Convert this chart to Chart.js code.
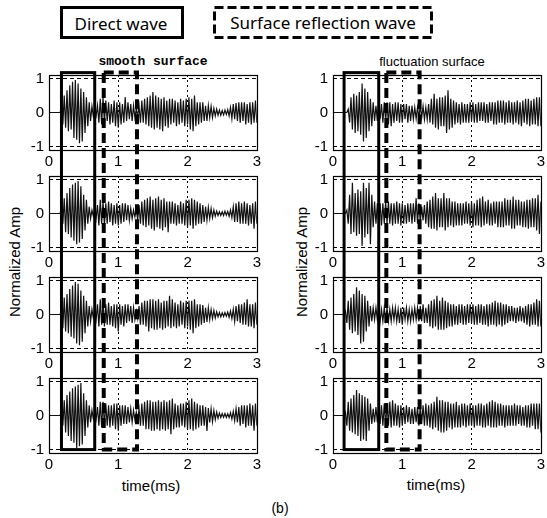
<!DOCTYPE html>
<html>
<head>
<meta charset="utf-8">
<script src="https://cdn.jsdelivr.net/npm/chart.js@4.4.1/dist/chart.umd.min.js"></script>
<style>
  body { margin: 0; width: 547px; height: 518px; background: #fff; position: relative; overflow: hidden; font-family: "Liberation Sans", Arial, sans-serif; }
  canvas.plot { position: absolute; }
  #overlay { position: absolute; left: 0; top: 0; pointer-events: none; }
  .txt { position: absolute; transform: translate(-50%, -50%); white-space: nowrap; color: #000; }
</style>
</head>
<body>
<div class="txt" style="left:121px;top:23px;font:17px 'Noto Sans', sans-serif;">Direct wave</div>
<div class="txt" style="left:323px;top:22px;font:17px 'Noto Sans', sans-serif;">Surface reflection wave</div>
<div class="txt" style="left:153px;top:61px;font:bold 13px 'Liberation Mono', 'Courier New', monospace;">smooth surface</div>
<div class="txt" style="left:432px;top:61px;font:13px 'Liberation Sans', Arial, sans-serif;">fluctuation surface</div>
<div class="txt" style="left:14px;top:262px;font:15px 'Liberation Sans', Arial, sans-serif;transform:translate(-50%,-50%) rotate(-90deg);">Normalized Amp</div>
<div class="txt" style="left:301px;top:262px;font:15px 'Liberation Sans', Arial, sans-serif;transform:translate(-50%,-50%) rotate(-90deg);">Normalized Amp</div>
<div class="txt" style="left:151px;top:485px;font:15px 'Liberation Sans', Arial, sans-serif;">time(ms)</div>
<div class="txt" style="left:436px;top:484px;font:15px 'Liberation Sans', Arial, sans-serif;">time(ms)</div>
<div class="txt" style="left:280px;top:508px;font:14px 'Liberation Sans', Arial, sans-serif;">(b)</div>

<canvas id="L1" class="plot"></canvas>
<canvas id="L2" class="plot"></canvas>
<canvas id="L3" class="plot"></canvas>
<canvas id="L4" class="plot"></canvas>
<canvas id="R1" class="plot"></canvas>
<canvas id="R2" class="plot"></canvas>
<canvas id="R3" class="plot"></canvas>
<canvas id="R4" class="plot"></canvas>
<canvas id="overlay" width="547" height="518"></canvas>

<script>
// sample spacing of the traces (ms), first sample at t = 0
const DT = 0.02;
const xTicks = [0, 1, 2, 3];
const yTicks = [-1, 0, 1];

// smooth surface, receivers 1..4 (normalized amplitude)
const smooth1 = [
  0,0,0,0,0,0,0,0,0,.12,
  -.35,.5,-.45,.65,-.55,.8,-.5,.9,-.75,.95,
  -.8,.85,-.9,.7,-.85,.6,-.6,.45,-.4,.3,
  -.25,.18,-.12,.08,-.1,.2,-.3,.4,-.35,.45,
  -.3,.35,-.25,.3,-.35,.25,-.3,.35,-.4,.3,
  -.45,.3,-.35,.25,-.3,.45,-.25,.3,-.2,.25,
  -.25,.2,-.15,.1,-.12,.2,-.3,.35,-.3,.4,
  -.35,.45,-.4,.5,-.45,.6,-.5,.5,-.45,.45,
  -.5,.4,-.55,.45,-.4,.35,-.45,.4,-.35,.4,
  -.3,.35,-.4,.3,-.35,.4,-.3,.35,-.4,.4,
  -.35,.45,-.5,.4,-.55,.5,-.4,.3,-.35,.3,
  -.3,.3,-.25,.2,-.25,.2,-.15,.18,-.15,.12,
  -.1,.1,-.08,.07,-.08,.06,-.07,.07,-.06,.08,
  -.1,.15,-.18,.25,-.2,.28,-.25,.3,-.3,.3,
  -.25,.3,-.35,.25,-.3,.3,-.35,.3,-.3,.35,
  -.3
];
const smooth2 = [
  0,0,0,0,0,0,0,0,0,.15,
  -.3,.45,-.55,.6,-.6,.75,-.7,.85,-.8,.9,
  -.9,.95,-.85,.8,-.75,.55,-.5,.4,-.3,.2,
  -.15,.1,-.08,.12,-.15,.25,-.35,.4,-.3,.35,
  -.35,.3,-.3,.35,-.25,.3,-.35,.25,-.3,.3,
  -.35,.25,-.3,.3,-.25,.3,-.2,.25,-.2,.15,
  -.15,.1,-.1,.12,-.18,.25,-.3,.35,-.35,.4,
  -.4,.45,-.35,.5,-.45,.4,-.5,.45,-.4,.5,
  -.45,.4,-.5,.45,-.4,.35,-.55,.35,-.3,.35,
  -.3,.3,-.35,.25,-.3,.35,-.3,.3,-.35,.4,
  -.4,.4,-.35,.45,-.45,.4,-.35,.35,-.3,.3,
  -.3,.25,-.25,.2,-.2,.18,-.15,.15,-.12,.1,
  -.08,.07,-.06,.05,-.06,.05,-.06,.07,-.05,.06,
  -.08,.1,-.12,.2,-.25,.3,-.25,.35,-.3,.3,
  -.3,.35,-.3,.3,-.35,.25,-.3,.3,-.45,.35,
  -.3
];
const smooth3 = [
  0,0,0,0,0,0,0,0,0,.12,
  -.4,.5,-.5,.6,-.55,.75,-.65,.85,-.7,.95,
  -.85,.9,-.9,.7,-.8,.55,-.55,.4,-.35,.25,
  -.2,.15,-.1,.1,-.15,.3,-.35,.45,-.3,.4,
  -.35,.3,-.3,.35,-.3,.25,-.35,.3,-.4,.3,
  -.5,.3,-.3,.25,-.35,.3,-.25,.3,-.2,.25,
  -.25,.2,-.15,.1,-.12,.25,-.3,.35,-.3,.4,
  -.35,.4,-.5,.45,-.4,.45,-.45,.4,-.45,.45,
  -.4,.35,-.45,.4,-.4,.4,-.35,.55,-.4,.45,
  -.35,.35,-.4,.3,-.35,.4,-.3,.35,-.4,.4,
  -.35,.4,-.45,.4,-.55,.45,-.4,.3,-.35,.3,
  -.3,.28,-.25,.2,-.22,.2,-.15,.15,-.12,.12,
  -.1,.08,-.07,.06,-.07,.05,-.06,.06,-.05,.07,
  -.08,.1,-.12,.15,-.2,.25,-.2,.3,-.25,.3,
  -.3,.35,-.3,.45,-.35,.3,-.35,.3,-.4,.35,
  -.3
];
const smooth4 = [
  0,0,0,0,0,0,0,0,0,.12,
  -.3,.45,-.5,.6,-.6,.7,-.75,.8,-.8,.85,
  -.95,.9,-.9,.95,-.85,.65,-.6,.45,-.35,.3,
  -.2,.15,-.1,.08,-.12,.25,-.3,.4,-.35,.4,
  -.3,.35,-.3,.3,-.35,.3,-.3,.35,-.4,.35,
  -.45,.3,-.3,.3,-.25,.3,-.25,.25,-.2,.2,
  -.2,.15,-.12,.1,-.12,.2,-.3,.35,-.3,.4,
  -.4,.45,-.4,.45,-.45,.4,-.45,.4,-.4,.45,
  -.45,.4,-.4,.45,-.45,.4,-.4,.45,-.55,.5,
  -.4,.35,-.35,.3,-.35,.35,-.3,.35,-.35,.4,
  -.4,.45,-.4,.5,-.45,.4,-.4,.35,-.35,.3,
  -.3,.3,-.3,.25,-.45,.22,-.2,.2,-.18,.15,
  -.12,.1,-.08,.07,-.06,.06,-.05,.06,-.06,.05,
  -.06,.08,-.1,.12,-.15,.2,-.2,.25,-.3,.3,
  -.25,.3,-.35,.3,-.3,.35,-.3,.3,-.45,.35,
  -.3
];

// fluctuation surface, receivers 1..4
const fluct1 = [
  0,0,0,0,0,0,0,0,0,0,
  0,.1,-.3,.45,-.5,.55,-.6,.5,-.55,.6,
  -.65,.85,-.85,.7,-.75,.6,-.55,.4,-.4,.3,
  -.25,.2,-.25,.3,-.2,.25,-.3,.3,-.25,.3,
  -.35,.3,-.4,.25,-.3,.3,-.25,.3,-.3,.25,
  -.3,.25,-.2,.25,-.3,.2,-.25,.2,-.2,.15,
  -.18,.15,-.15,.2,-.15,.18,-.2,.15,-.2,.25,
  -.3,.4,-.35,.55,-.45,.4,-.5,.45,-.4,.45,
  -.4,.5,-.6,.65,-.5,.4,-.45,.35,-.35,.3,
  -.3,.25,-.35,.3,-.3,.25,-.3,.25,-.3,.3,
  -.25,.3,-.3,.25,-.3,.3,-.25,.3,-.25,.3,
  -.3,.25,-.3,.3,-.25,.3,-.35,.3,-.35,.35,
  -.3,.35,-.3,.35,-.35,.3,-.3,.35,-.3,.3,
  -.35,.3,-.3,.35,-.35,.3,-.4,.35,-.3,.4,
  -.35,.4,-.4,.35,-.35,.4,-.35,.45,-.4,.45,
  -.4
];
const fluct2 = [
  0,0,0,0,0,0,0,0,0,0,
  .1,-.3,.55,-.6,.9,-.55,.6,-.65,.7,-.6,
  .65,-.95,.9,-.7,.75,-.6,.9,-.9,.55,-.4,
  .35,-.3,.3,-.25,.3,-.35,.3,-.3,.35,-.3,
  .35,-.3,.3,-.35,.3,-.3,.35,-.3,.3,-.35,
  .3,-.3,.25,-.3,.3,-.25,.3,-.3,.3,-.25,
  .45,-.3,.3,-.25,.2,-.2,.25,-.3,.35,-.4,
  .4,-.45,.5,-.45,.6,-.5,.45,-.4,.45,-.4,
  .6,-.5,.45,-.4,.45,-.35,.35,-.4,.35,-.35,
  .3,-.35,.3,-.35,.3,-.3,.35,-.3,.3,-.35,
  .35,-.4,.3,-.35,.4,-.35,.45,-.4,.5,-.35,
  .35,-.3,.4,-.35,.3,-.35,.35,-.3,.35,-.4,
  .35,-.4,.35,-.4,.45,-.35,.4,-.35,.4,-.45,
  .5,-.45,.4,-.35,.4,-.35,.35,-.4,.35,-.4,
  .4,-.45,.4,-.4,.45,-.4,.45,-.5,.55,-.6,
  .35
];
const fluct3 = [
  0,0,0,0,0,0,0,0,0,.1,
  -.25,.4,-.45,.5,-.55,.6,-.5,.8,-.6,.7,
  -.85,.6,-.8,.55,-.5,.4,-.35,.25,-.2,.2,
  -.15,.2,-.15,.18,-.2,.15,-.2,.2,-.15,.2,
  -.2,.15,-.2,.2,-.15,.2,-.2,.15,-.25,.2,
  -.3,.2,-.15,.2,-.2,.15,-.2,.15,-.15,.2,
  -.15,.2,-.2,.25,-.2,.3,-.25,.2,-.25,.3,
  -.35,.4,-.4,.45,-.35,.55,-.45,.4,-.45,.5,
  -.45,.4,-.4,.35,-.35,.3,-.35,.3,-.3,.25,
  -.3,.3,-.25,.3,-.3,.25,-.3,.3,-.25,.3,
  -.25,.3,-.3,.25,-.3,.3,-.25,.3,-.3,.25,
  -.3,.3,-.35,.3,-.3,.35,-.3,.4,-.35,.35,
  -.3,.35,-.35,.3,-.3,.3,-.25,.25,-.2,.25,
  -.2,.2,-.25,.2,-.2,.25,-.2,.2,-.25,.25,
  -.3,.3,-.35,.3,-.3,.35,-.3,.45,-.35,.4,
  -.35
];
const fluct4 = [
  0,0,0,0,0,0,0,0,0,.1,
  -.3,.4,-.45,.5,-.5,.6,-.55,.75,-.6,.65,
  -.75,.6,-.7,.55,-.75,.5,-.45,.35,-.25,.2,
  -.2,.25,-.2,.2,-.25,.3,-.3,.35,-.3,.35,
  -.3,.4,-.35,.45,-.3,.35,-.3,.3,-.35,.3,
  -.3,.25,-.25,.3,-.2,.25,-.25,.2,-.25,.25,
  -.2,.25,-.3,.3,-.25,.3,-.3,.35,-.3,.3,
  -.35,.35,-.4,.4,-.35,.55,-.45,.45,-.5,.45,
  -.5,.4,-.45,.4,-.35,.35,-.4,.35,-.35,.4,
  -.35,.3,-.35,.35,-.3,.35,-.35,.3,-.3,.35,
  -.3,.3,-.35,.3,-.3,.35,-.3,.35,-.35,.3,
  -.35,.35,-.3,.4,-.35,.45,-.35,.4,-.35,.35,
  -.3,.35,-.3,.3,-.35,.3,-.3,.3,-.3,.3,
  -.3,.35,-.3,.3,-.25,.3,-.3,.25,-.3,.3,
  -.35,.3,-.35,.35,-.3,.35,-.4,.35,-.4,.35,
  -.5
];

// time windows (ms) marked by the boxes
const directWinL = [0.18, 0.66];
const reflectWinL = [0.79, 1.27];
const directWinR = [0.16, 0.66];
const reflectWinR = [0.77, 1.25];

Chart.defaults.font.family = "'Liberation Sans', Arial, sans-serif";
Chart.defaults.color = '#000';

const PAD_TOP = 16;
const PLOT_H = 75;
const XAXIS_H = 22;
const frameTops = [75, 176, 277, 378];

// draws the full box round the plot area
const frameBox = {
  id: 'frameBox',
  afterDraw(chart) {
    const { ctx, chartArea: a } = chart;
    ctx.save();
    ctx.strokeStyle = '#000';
    ctx.lineWidth = 1.2;
    ctx.setLineDash([]);
    ctx.strokeRect(Math.round(a.left) + 0.5, Math.round(a.top) + 0.5, Math.round(a.right - a.left), Math.round(a.bottom - a.top));
    ctx.restore();
  }
};

function makePlot(id, values, left, top, width, yAxisW) {
  const el = document.getElementById(id);
  el.width = width;
  el.height = PAD_TOP + PLOT_H + XAXIS_H;
  el.style.left = left + 'px';
  el.style.top = (top - PAD_TOP) + 'px';
  const pts = values.map((v, i) => ({ x: +(i * DT).toFixed(2), y: v }));
  const chart = new Chart(el, {
    type: 'line',
    data: { datasets: [{ data: pts, borderColor: '#111', borderWidth: 1.2, pointRadius: 0, tension: 0, fill: false }] },
    options: {
      animation: false,
      responsive: false,
      events: [],
      layout: { padding: { top: PAD_TOP, right: width - yAxisW - 209, left: 0, bottom: 0 } },
      plugins: { legend: { display: false }, tooltip: { enabled: false } },
      scales: {
        x: {
          type: 'linear', min: 0, max: 3,
          afterBuildTicks: s => { s.ticks = xTicks.map(v => ({ value: v })); },
          afterFit: s => { s.height = XAXIS_H; },
          grid: { color: c => (c.tick && (c.tick.value === 1 || c.tick.value === 2)) ? '#000' : 'rgba(0,0,0,0)', lineWidth: 1, drawTicks: false },
          border: { display: false, dash: [2, 3] },
          ticks: { font: { size: 15 }, padding: 3, maxRotation: 0, autoSkip: false }
        },
        y: {
          min: -1.1, max: 1.1,
          afterBuildTicks: s => { s.ticks = yTicks.map(v => ({ value: v })); },
          afterFit: s => { s.width = yAxisW; },
          grid: { color: c => (c.tick && c.tick.value !== 0) ? '#000' : 'rgba(0,0,0,0)', lineWidth: 1, drawTicks: false },
          border: { display: false, dash: [4, 3] },
          ticks: { font: { size: 15 }, padding: 5, autoSkip: false }
        }
      }
    },
    plugins: [frameBox]
  });
  chart.$left = left;
  chart.$top = top - PAD_TOP;
  return chart;
}

const leftCol = [smooth1, smooth2, smooth3, smooth4].map((v, i) => makePlot('L' + (i + 1), v, 0, frameTops[i], 264, 49));
const rightCol = [fluct1, fluct2, fluct3, fluct4].map((v, i) => makePlot('R' + (i + 1), v, 290, frameTops[i], 258, 43));

// boxes over the four plots of a column, placed through the chart scales
const ov = document.getElementById('overlay').getContext('2d');
function windowBox(col, win, dashed) {
  const first = col[0], last = col[3];
  const x0 = first.$left + first.scales.x.getPixelForValue(win[0]);
  const x1 = first.$left + first.scales.x.getPixelForValue(win[1]);
  const y0 = first.$top + first.scales.y.getPixelForValue(1.17);
  const y1 = last.$top + last.scales.y.getPixelForValue(-1);
  ov.save();
  ov.strokeStyle = '#000';
  ov.lineWidth = dashed ? 4 : 3;
  ov.setLineDash(dashed ? [10, 5] : []);
  ov.strokeRect(x0, y0, x1 - x0, y1 - y0);
  ov.restore();
}
windowBox(leftCol, directWinL, false);
windowBox(leftCol, reflectWinL, true);
windowBox(rightCol, directWinR, false);
windowBox(rightCol, reflectWinR, true);

// legend frames at the top
ov.lineWidth = 3;
ov.strokeStyle = '#000';
ov.strokeRect(61.5, 7.5, 121, 30);
ov.setLineDash([9, 4]);
ov.strokeRect(214.5, 7.5, 217, 30);
</script>
</body>
</html>
